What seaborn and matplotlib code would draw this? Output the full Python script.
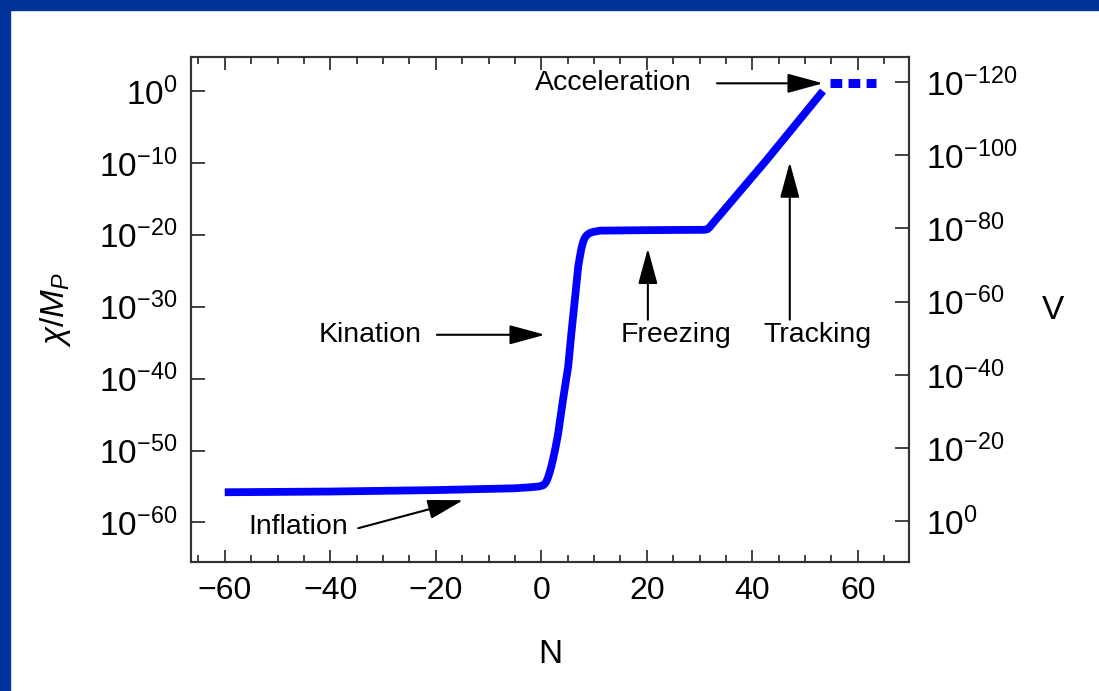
import numpy as np
import pandas as pd
import seaborn as sns
import matplotlib.pyplot as plt
from matplotlib.patches import Rectangle
from matplotlib.ticker import NullLocator, MultipleLocator

# Curve: e-folds N and log10(chi / M_P)
n_vals = [-60, -40, -20, -5, -2, -0.5, 0.3, 0.65, 1.0, 1.3, 1.6, 1.9, 2.2, 2.7,
          3.2, 4.1, 5.1, 5.7, 6.35, 7.0, 7.35, 7.6, 7.85, 8.1, 8.4, 8.7, 9.2, 9.8,
          11.1, 20, 31.0, 31.5, 31.9, 32.4, 42.7, 53.4]
log_chi = [-55.8, -55.7, -55.5, -55.25, -55.1, -55.0, -54.85, -54.65, -54.25,
           -53.7, -53.0, -52.2, -51.3, -49.6, -47.6, -43.0, -38.3, -33.7, -29.1,
           -24.4, -22.9, -21.9, -21.2, -20.65, -20.25, -20.0, -19.75, -19.6,
           -19.42, -19.35, -19.3, -19.22, -18.95, -18.5, -9.6, 0.0]

# dashed "acceleration" continuation
n_accel = [54.7, 63.5]
log_accel = [1.07, 1.07]

# axis ticks
x_ticks = [-60, -40, -20, 0, 20, 40, 60]
x_tick_labels = ['\u221260', '\u221240', '\u221220', '0', '20', '40', '60']
left_exps = [0, -10, -20, -30, -40, -50, -60]
right_exps = [-120, -100, -80, -60, -40, -20, 0]

# annotations: label, text (N, log10), arrow tail (N, log10), arrow tip (N, log10)
labels = ['Acceleration', 'Kination', 'Freezing', 'Tracking', 'Inflation']
text_pos = [(13.65, 1.07), (-32.5, -33.9), (25.5, -33.9), (52.3, -33.9), (-46.1, -60.6)]
arrow_tail = [(33.3, 1.07), (-19.8, -33.9), (20.2, -31.8), (47.1, -31.8), (-34.7, -60.8)]
arrow_tip = [(53.4, 1.07), (0.7, -33.9), (20.2, -21.9), (47.1, -9.9), (-14.8, -56.9)]

sns.set_style('ticks')
plt.rcParams['font.family'] = ['Liberation Sans', 'DejaVu Sans']
plt.rcParams['mathtext.fontset'] = 'custom'
plt.rcParams['mathtext.rm'] = 'Liberation Sans'
plt.rcParams['mathtext.it'] = 'Liberation Sans:italic'
plt.rcParams['mathtext.bf'] = 'Liberation Sans:bold'
plt.rcParams['text.color'] = 'black'
plt.rcParams['axes.labelcolor'] = 'black'
plt.rcParams['xtick.labelcolor'] = 'black'
plt.rcParams['ytick.labelcolor'] = 'black'

fig = plt.figure(figsize=(10.99, 6.91), dpi=100)
ax = fig.add_axes([191 / 1099, 1 - 562 / 691, 718 / 1099, 505 / 691])

df = pd.DataFrame({'N': n_vals, 'chi': 10.0 ** np.array(log_chi)})
sns.lineplot(data=df, x='N', y='chi', ax=ax, color='#0000ff', linewidth=5.6,
             solid_capstyle='butt', solid_joinstyle='round', sort=False)

df_acc = pd.DataFrame({'N': n_accel, 'chi': 10.0 ** np.array(log_accel)})
sns.lineplot(data=df_acc, x='N', y='chi', ax=ax, color='#0000ff', linewidth=6.5,
             dashes=False, linestyle=(0, (1.3, 0.7)), dash_capstyle='butt')

ax.set_yscale('log')
ax.set_xlim(-66.4, 69.7)
ax.set_ylim(10 ** -65.5, 10 ** 4.73)

spine_col = '#333333'
for sp in ax.spines.values():
    sp.set_linewidth(1.5)
    sp.set_color(spine_col)

ax.set_xticks(x_ticks, x_tick_labels)
ax.xaxis.set_minor_locator(MultipleLocator(5))
ax.set_yticks([10.0 ** e for e in left_exps],
              [r'$10^{%d}$' % e for e in left_exps])
ax.yaxis.set_minor_locator(NullLocator())
ax.tick_params(axis='x', which='both', direction='in', top=True, bottom=True,
               color=spine_col, width=1.3, labelsize=23, pad=10)
ax.tick_params(axis='x', which='major', length=9)
ax.tick_params(axis='x', which='minor', length=5)
ax.tick_params(axis='y', which='major', direction='in', length=10, width=1.3,
               color=spine_col, labelsize=24, pad=10)

ax.set_xlabel('N', fontsize=24)
ax.xaxis.label.set(va='center')
ax.xaxis.set_label_coords(0.5, -0.184)
ax.set_ylabel(r'$\chi/M_P$', fontsize=24)
ax.yaxis.label.set(ha='center', va='center')
ax.yaxis.set_label_coords(-0.1894, 0.5)

# right axis for the potential V (inverted log scale)
ax2 = ax.twinx()
ax2.set_yscale('log')
ax2.set_ylim(10 ** 11.1, 10 ** -126.8)
ax2.set_yticks([10.0 ** e for e in right_exps],
               [r'$10^{%d}$' % e for e in right_exps])
ax2.yaxis.set_minor_locator(NullLocator())
ax2.tick_params(axis='y', which='major', direction='in', length=10, width=1.3,
                color=spine_col, labelsize=24, pad=12)
for sp in ax2.spines.values():
    sp.set_linewidth(1.5)
    sp.set_color(spine_col)
ax2.set_ylabel('V', fontsize=24, rotation=0)
ax2.yaxis.label.set(ha='center', va='center')
ax2.yaxis.set_label_coords(1.2, 0.499)

# arrows and labels
for lab, tp, tail, tip in zip(labels, text_pos, arrow_tail, arrow_tip):
    ax.annotate('', xy=(tip[0], 10.0 ** tip[1]), xytext=(tail[0], 10.0 ** tail[1]),
                arrowprops=dict(arrowstyle='-|>,head_length=1.1,head_width=0.3',
                                color='black', lw=1.5, shrinkA=0, shrinkB=0,
                                mutation_scale=20))
    ax.text(tp[0], 10.0 ** tp[1], lab, fontsize=20.5, ha='center', va='center')

# blue slide frame
blue = '#003399'
fig.patches.append(Rectangle((0, 1 - 10 / 691), 1, 10 / 691,
                             transform=fig.transFigure, color=blue, zorder=10))
fig.patches.append(Rectangle((0, 0), 10 / 1099, 1,
                             transform=fig.transFigure, color=blue, zorder=10))

fig.savefig('out.png', dpi=100)
